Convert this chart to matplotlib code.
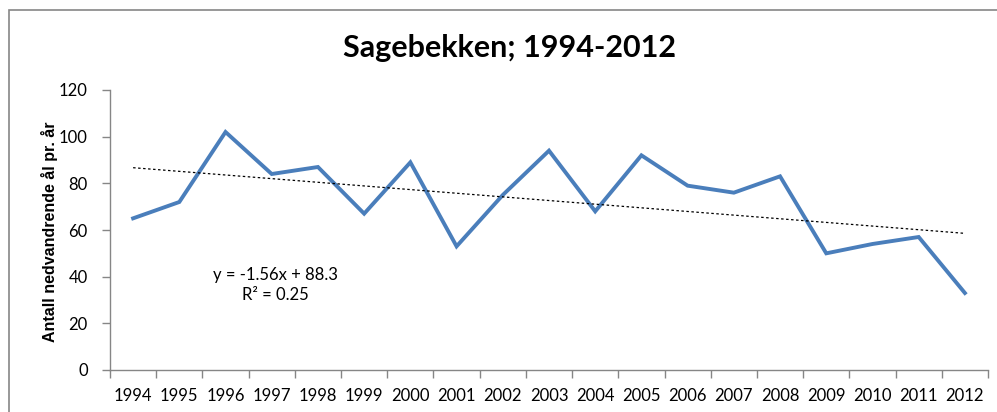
import numpy as np
import matplotlib.pyplot as plt
from matplotlib.patches import Rectangle
from matplotlib.ticker import FixedLocator, NullFormatter

# data
years = [1994, 1995, 1996, 1997, 1998, 1999, 2000, 2001, 2002, 2003,
         2004, 2005, 2006, 2007, 2008, 2009, 2010, 2011, 2012]
eel_counts = [65, 72, 102, 84, 87, 67, 89, 53, 75, 94,
              68, 92, 79, 76, 83, 50, 54, 57, 33]
y_ticks = [0, 20, 40, 60, 80, 100, 120]
trend_text = "y = -1.56x + 88.3\nR² = 0.25"

body = ['Lato', 'DejaVu Sans']
plt.rcParams['font.family'] = body

fig = plt.figure(figsize=(9.97, 4.12), dpi=100)
ax = fig.add_axes([110 / 997, 1 - 370 / 412, 878 / 997, 280 / 412])

# outer chart frame (runs off right/bottom like the screenshot)
fig.patches.append(Rectangle((9 / 997, -0.1), 1.2, 1 - 10 / 412 + 0.1,
                             transform=fig.transFigure, fill=False,
                             edgecolor='#868686', linewidth=1.2))

x = np.arange(len(years))
ax.plot(x, eel_counts, color='#4A7EBB', linewidth=2.8, solid_joinstyle='miter')

# linear trendline on category index
slope, intercept = np.polyfit(x, eel_counts, 1)
ax.plot(x, slope * x + intercept, color='black', linewidth=0.9,
        linestyle=(0, (2, 2)))

ax.text(3.07, 36.6, trend_text, ha='center', va='center', fontsize=12,
        linespacing=1.3)

ax.set_xlim(-0.5, len(years) - 0.5)
ax.set_ylim(0, 120)
ax.set_yticks(y_ticks)
ax.set_yticklabels([str(v) for v in y_ticks])

# tick marks between categories, labels at category centres
ax.xaxis.set_major_locator(FixedLocator(np.arange(-0.5, len(years), 1.0)))
ax.xaxis.set_major_formatter(NullFormatter())
ax.xaxis.set_minor_locator(FixedLocator(x))
ax.set_xticklabels([str(y) for y in years], minor=True)
ax.tick_params(axis='x', which='major', length=6, color='#868686', width=1)
ax.tick_params(axis='x', which='minor', length=0, pad=13, labelsize=12)
ax.tick_params(axis='y', length=6, color='#868686', width=1, labelsize=12, pad=10)

for side in ['top', 'right']:
    ax.spines[side].set_visible(False)
for side in ['left', 'bottom']:
    ax.spines[side].set_color('#868686')
    ax.spines[side].set_linewidth(1)

fig.text(49 / 997, 1 - 232 / 412, 'Antall nedvandrende ål pr. år', rotation=90,
         ha='center', va='center', fontsize=11.5, fontweight='bold',
         family=['Liberation Sans', 'DejaVu Sans'])

fig.text(509 / 997, 1 - 48 / 412, 'Sagebekken; 1994-2012', ha='center',
         va='center', fontsize=22, fontweight='bold')

fig.savefig('out.png', dpi=100)
